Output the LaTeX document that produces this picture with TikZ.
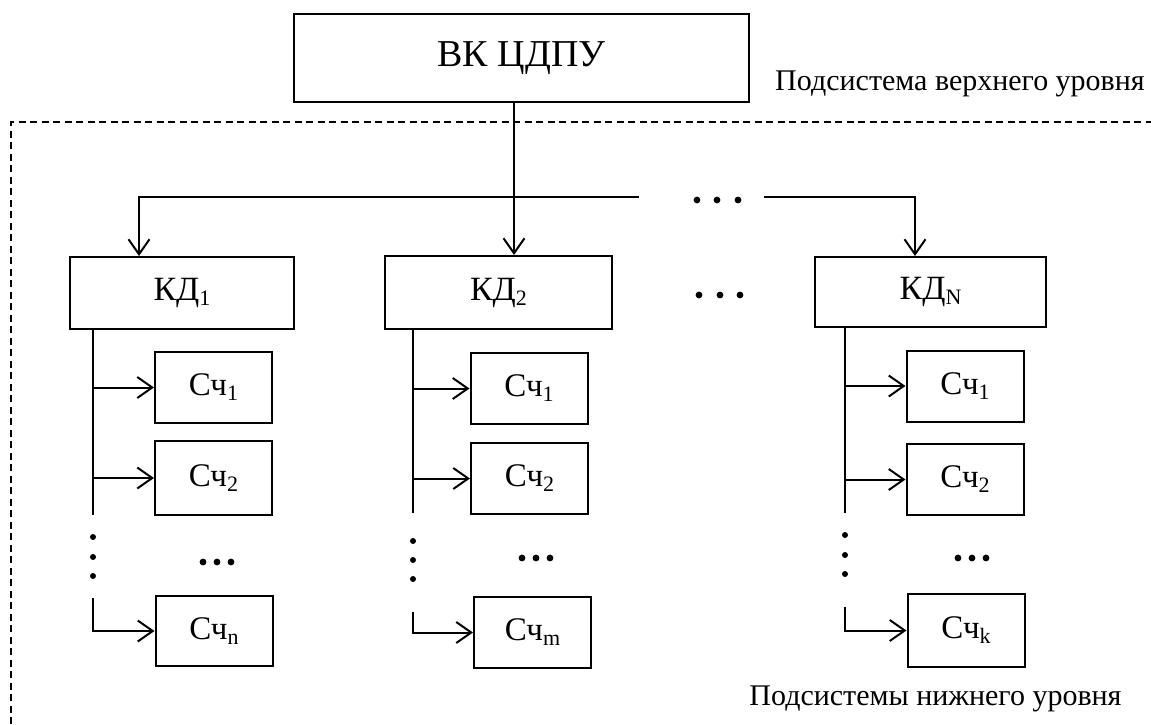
\documentclass[tikz,border=0pt]{standalone}
\usepackage{fontspec}
\setmainfont{Liberation Serif}
\usetikzlibrary{arrows.meta}
\newcommand\lowidx[1]{\raisebox{-5pt}{\fontsize{22}{22}\selectfont #1}}
\begin{document}
\begin{tikzpicture}[x=1pt,y=-1pt,
  box/.style={draw, line width=2pt, inner sep=0pt, anchor=center},
  kdbox/.style={box, font=\fontsize{34}{38}\selectfont},
  scbox/.style={box, minimum width=117pt, minimum height=71pt, font=\fontsize{33}{38}\selectfont},
  conn/.style={line width=2pt},
  arr/.style={conn, -{Straight Barb[length=15pt,width=21pt,line width=2pt]}},
  frame/.style={line width=2pt, dash pattern=on 7pt off 4.5pt},
  lbl/.style={font=\fontsize{30}{34}\selectfont, anchor=base, inner sep=0pt}
]
\useasboundingbox (0,0) rectangle (1151,724);

% dashed frame of the lower subsystems
\draw[frame] (11,724) -- (11,122) -- (1151,122);

% top box
\node[box, minimum width=455pt, minimum height=88pt, font=\fontsize{38}{42}\selectfont] (vk) at (521.5,58) {ВК ЦДПУ};
\node[lbl] (up) at (960,90) {Подсистема верхнего уровня};

% concentrators
\node[kdbox, minimum width=224pt, minimum height=72pt] (kd1) at (182,293) {КД\lowidx{1}};
\node[kdbox, minimum width=227pt, minimum height=73pt] (kd2) at (498.5,292.5) {КД\lowidx{2}};
\node[kdbox, minimum width=231pt, minimum height=70pt] (kdn) at (930.5,292) {КД\lowidx{N}};

% meters
\node[scbox] (a1) at (213.5,387.5) {Сч\lowidx{1}};
\node[scbox, minimum height=74pt] (a2) at (213.5,478) {Сч\lowidx{2}};
\node[scbox, minimum height=70pt] (an) at (214,631) {Сч\lowidx{n}};
\node[scbox] (b1) at (529,388.5) {Сч\lowidx{1}};
\node[scbox] (b2) at (529.5,478.5) {Сч\lowidx{2}};
\node[scbox] (bm) at (532.5,632.5) {Сч\lowidx{m}};
\node[scbox] (c1) at (965,386) {Сч\lowidx{1}};
\node[scbox] (c2) at (965,479.5) {Сч\lowidx{2}};
\node[scbox, minimum height=73pt] (ck) at (966,630.5) {Сч\lowidx{k}};

% top bus
\coordinate (x2) at (514,0);
\coordinate (bl) at (139,197);
\coordinate (be) at (639,197);
\coordinate (bs) at (764,197);
\coordinate (br) at (915,197);
\draw[arr] (vk.south -| x2) -- (kd2.north -| x2);
\draw[arr] (be) -- (bl) -- (kd1.north -| bl);
\draw[arr] (bs) -- (br) -- (kdn.north -| br);
\foreach \x in {697,717,738} \fill (\x,200) circle (3.4pt);
\foreach \x in {699,720,740} \fill (\x,295) circle (3.4pt);

% column 1
\coordinate (v1) at (93,515);
\draw[conn] (kd1.south -| v1) -- (v1);
\draw[arr] (v1 |- a1) -- (a1.west);
\draw[arr] (v1 |- a2) -- (a2.west);
\coordinate (l1) at (93,598);
\draw[arr] (l1) -- (l1 |- an) -- (an.west);
\foreach \y in {537,557,576} \fill (93,\y) circle (3pt);
\foreach \x in {203,217,231} \fill (\x,562) circle (3.4pt);

% column 2
\coordinate (v2) at (413,513);
\draw[conn] (kd2.south -| v2) -- (v2);
\draw[arr] (v2 |- b1) -- (b1.west);
\draw[arr] (v2 |- b2) -- (b2.west);
\coordinate (l2) at (413,612);
\draw[arr] (l2) -- (l2 |- bm) -- (bm.west);
\foreach \y in {541,560,579} \fill (413,\y) circle (3pt);
\foreach \x in {522,536,550} \fill (\x,558) circle (3.4pt);

% column 3
\coordinate (v3) at (845,513);
\draw[conn] (kdn.south -| v3) -- (v3);
\draw[arr] (v3 |- c1) -- (c1.west);
\draw[arr] (v3 |- c2) -- (c2.west);
\coordinate (l3) at (845,607);
\draw[arr] (l3) -- (l3 |- ck) -- (ck.west);
\foreach \y in {535,555,574} \fill (845,\y) circle (3pt);
\foreach \x in {958,972,986} \fill (\x,558) circle (3.4pt);

\node[lbl] (low) at (935.5,705) {Подсистемы нижнего уровня};
\end{tikzpicture}
\end{document}
